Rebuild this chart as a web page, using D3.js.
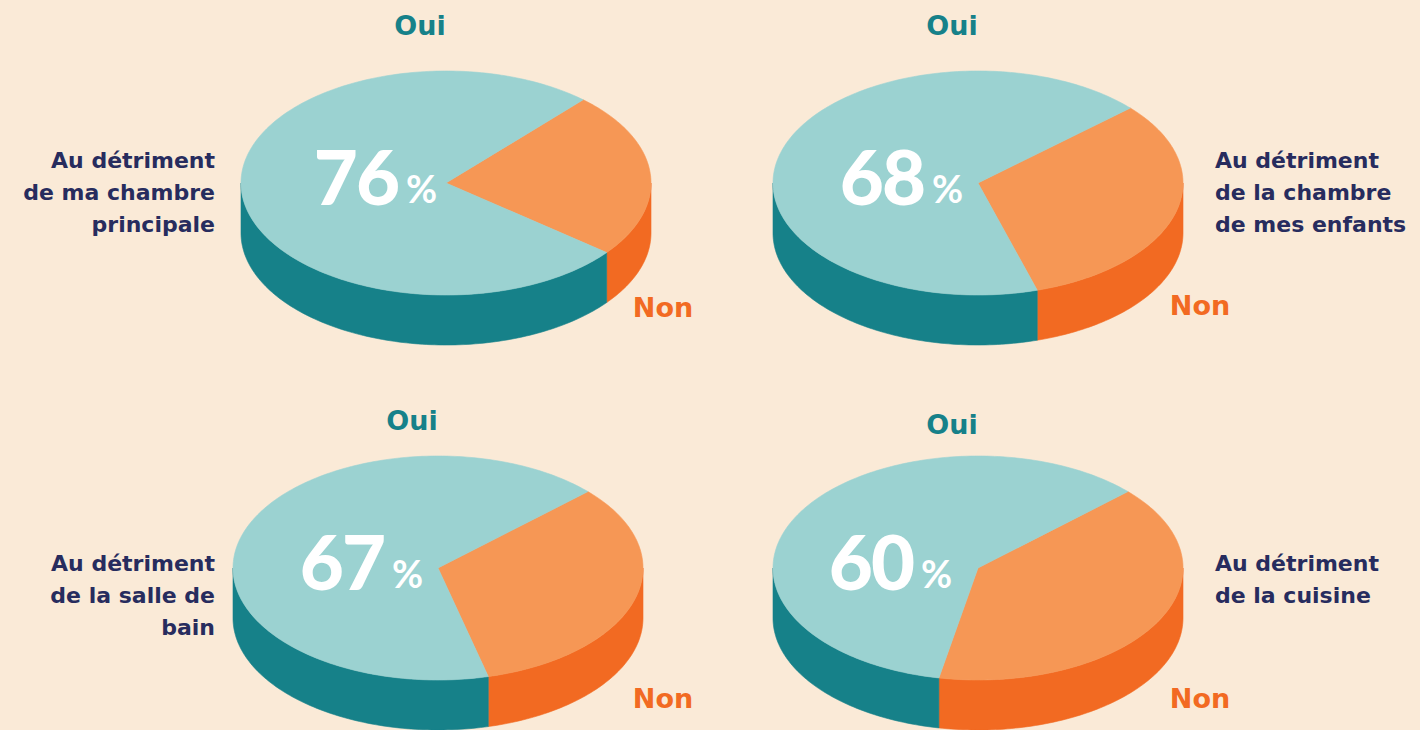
<!DOCTYPE html>
<html>
<head>
<meta charset="utf-8">
<script src="https://cdn.jsdelivr.net/npm/d3@7"></script>
<style>
  html, body { margin: 0; padding: 0; background: #faead7; }
  svg { display: block; font-family: "DejaVu Sans", sans-serif; }
</style>
</head>
<body>
<div id="chart"></div>
<script>
// data
var categories = ['Au détriment de ma chambre principale',
                  'Au détriment de la chambre de mes enfants',
                  'Au détriment de la salle de bain',
                  'Au détriment de la cuisine'];
var labelLines = [['Au détriment', 'de ma chambre', 'principale'],
                  ['Au détriment', 'de la chambre', 'de mes enfants'],
                  ['Au détriment', 'de la salle de', 'bain'],
                  ['Au détriment', 'de la cuisine']];
var answers = ['Non', 'Oui'];
var ouiValues = [76, 68, 67, 60];
var nonValues = [24, 32, 33, 40];

// layout (positions only, no data)
var width = 1420, height = 730;
var panels = [
  {cx: 446, cy: 183, rot: 42, labelSide: 'left',  labelX: 215, labelY: 160, ouiY: 25,  nonX: 663,  nonY: 307, pctX: -48},
  {cx: 978, cy: 183, rot: 48, labelSide: 'right', labelX: 1215, labelY: 160, ouiY: 25, nonX: 1200, nonY: 305, pctX: -54},
  {cx: 438, cy: 568, rot: 47, labelSide: 'left',  labelX: 215, labelY: 563, ouiY: 420, nonX: 663, nonY: 698, pctX: -54},
  {cx: 978, cy: 568, rot: 47, labelSide: 'right', labelX: 1215, labelY: 563, ouiY: 424, nonX: 1200, nonY: 698, pctX: -65}
];
var rx = 205, ry = 112, depth = 50;

var topColor = d3.scaleOrdinal().domain(answers).range(['#f69755', '#9bd2d1']);
var sideColor = d3.scaleOrdinal().domain(answers).range(['#f26a22', '#168189']);
var textColor = d3.scaleOrdinal().domain(answers).range(['#f26a22', '#168189']);
var navy = '#272c5e';

var svg = d3.select('#chart').append('svg')
  .attr('width', width)
  .attr('height', height);

svg.append('rect').attr('width', width).attr('height', height).attr('fill', '#faead7');

var line = d3.line();

//point on ellipse for d3 angle (0 at top, clockwise)
function pt(p, a, dy) {
  return [p.cx + rx * Math.sin(a), p.cy - ry * Math.cos(a) + (dy || 0)];
}

function arcPoints(p, a0, a1, dy) {
  var n = Math.max(2, Math.ceil(Math.abs(a1 - a0) / 0.02));
  var pts = [];
  for (var i = 0; i <= n; i++) pts.push(pt(p, a0 + (a1 - a0) * i / n, dy));
  return pts;
}

panels.forEach(function (p, i) {
  var g = svg.append('g');
  var start = p.rot * Math.PI / 180;
  var pie = d3.pie()
    .sort(null)
    .value(function (d) { return d.value; })
    .startAngle(start)
    .endAngle(start + 2 * Math.PI);
  var slices = pie([{key: 'Non', value: nonValues[i]}, {key: 'Oui', value: ouiValues[i]}]);

  //side walls: only the front half (angles between 90 and 270 deg) is visible
  slices.forEach(function (s) {
    var front = [[Math.PI / 2, 3 * Math.PI / 2], [Math.PI / 2 + 2 * Math.PI, 3 * Math.PI / 2 + 2 * Math.PI]];
    front.forEach(function (f) {
      var a0 = Math.max(s.startAngle, f[0]);
      var a1 = Math.min(s.endAngle, f[1]);
      if (a1 <= a0) return;
      var pts = arcPoints(p, a0, a1, 0).concat(arcPoints(p, a1, a0, depth));
      g.append('path')
        .attr('d', line(pts) + 'Z')
        .attr('fill', sideColor(s.data.key))
        .attr('stroke', sideColor(s.data.key))
        .attr('stroke-width', 0.6);
    });
  });

  //top face
  slices.forEach(function (s) {
    var pts = [[p.cx, p.cy]].concat(arcPoints(p, s.startAngle, s.endAngle, 0));
    g.append('path')
      .attr('d', line(pts) + 'Z')
      .attr('fill', topColor(s.data.key))
      .attr('stroke', topColor(s.data.key))
      .attr('stroke-width', 0.6);
  });

  //percentage
  g.append('text')
    .attr('x', p.cx + p.pctX)
    .attr('y', p.cy + 22)
    .attr('fill', '#ffffff')
    .attr('font-family', 'Lato, sans-serif')
    .attr('font-weight', 900)
    .attr('font-size', 76)
    .attr('letter-spacing', -2)
    .attr('text-anchor', 'end')
    .text(ouiValues[i]);
  g.append('text')
    .attr('x', p.cx + p.pctX + 8)
    .attr('y', p.cy + 20)
    .attr('fill', '#ffffff')
    .attr('font-family', 'Lato, sans-serif')
    .attr('font-weight', 700)
    .attr('font-size', 38)
    .text('%');

  //Oui / Non
  g.append('text')
    .attr('x', p.cx - 26)
    .attr('y', p.ouiY + 10)
    .attr('text-anchor', 'middle')
    .attr('fill', textColor('Oui'))
    .attr('font-weight', 700)
    .attr('font-size', 27)
    .text('Oui');
  g.append('text')
    .attr('x', p.nonX)
    .attr('y', p.nonY + 10)
    .attr('text-anchor', 'middle')
    .attr('fill', textColor('Non'))
    .attr('font-weight', 700)
    .attr('font-size', 27)
    .text('Non');

  //category label
  var lab = g.append('text')
    .attr('fill', navy)
    .attr('font-weight', 700)
    .attr('font-size', 22)
    .attr('text-anchor', p.labelSide === 'left' ? 'end' : 'start')
    .attr('aria-label', categories[i]);
  labelLines[i].forEach(function (t, k) {
    lab.append('tspan')
      .attr('x', p.labelX)
      .attr('y', p.labelY + 8 + k * 32)
      .text(t);
  });
});
</script>
</body>
</html>
